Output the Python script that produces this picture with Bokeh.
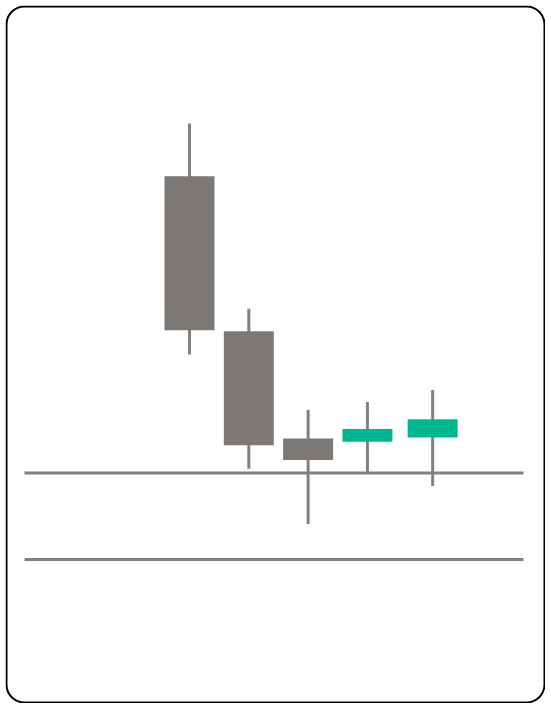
from bokeh.plotting import figure
from bokeh.models import BoxAnnotation, Range1d
from bokeh.embed import file_html
from bokeh.resources import INLINE

# data
day = [0, 1, 2, 3, 4.1]
open_ = [134.3, 116.4, 104.0, 103.6, 104.1]
close = [116.5, 103.2, 101.5, 105.1, 106.2]
high = [140.4, 119.0, 107.3, 108.2, 109.6]
low = [113.7, 100.5, 94.1, 100.0, 98.5]
levels = [100.0, 90.0]
level_start = [-2.782, -2.782]
level_end = [5.632, 5.632]

up_color = "#00b88f"
down_color = "#7b7876"
wick_color = "#808080"

p = figure(width=540, height=698, output_backend="svg", toolbar_location=None,
           x_range=Range1d(-3.103, 6.003), y_range=Range1d(73.35, 154.05),
           min_border_left=0, min_border_right=0, min_border_top=0, min_border_bottom=0)
p.styles = {"margin-left": "5px", "margin-top": "5px"}
p.axis.visible = False
p.grid.visible = False
p.outline_line_color = None
p.background_fill_color = "white"
p.border_fill_color = "white"

p.segment(x0=level_start, y0=levels, x1=level_end, y1=levels, line_color=wick_color, line_width=3)

p.segment(x0=day, y0=low, x1=day, y1=high, line_color=wick_color, line_width=3)

colors = [up_color if c > o else down_color for o, c in zip(open_, close)]
bottoms = [min(o, c) for o, c in zip(open_, close)]
tops = [max(o, c) for o, c in zip(open_, close)]
p.vbar(x=day, width=0.843, bottom=bottoms, top=tops, fill_color=colors, line_color=None)

border = BoxAnnotation(left=1, right=539, top=1, bottom=697,
                       left_units="screen", right_units="screen",
                       top_units="screen", bottom_units="screen",
                       fill_alpha=0, line_color="black", line_alpha=1.0, line_width=2,
                       border_radius=18, level="overlay")
p.add_layout(border)

open("out.html", "w").write(file_html(p, INLINE))
